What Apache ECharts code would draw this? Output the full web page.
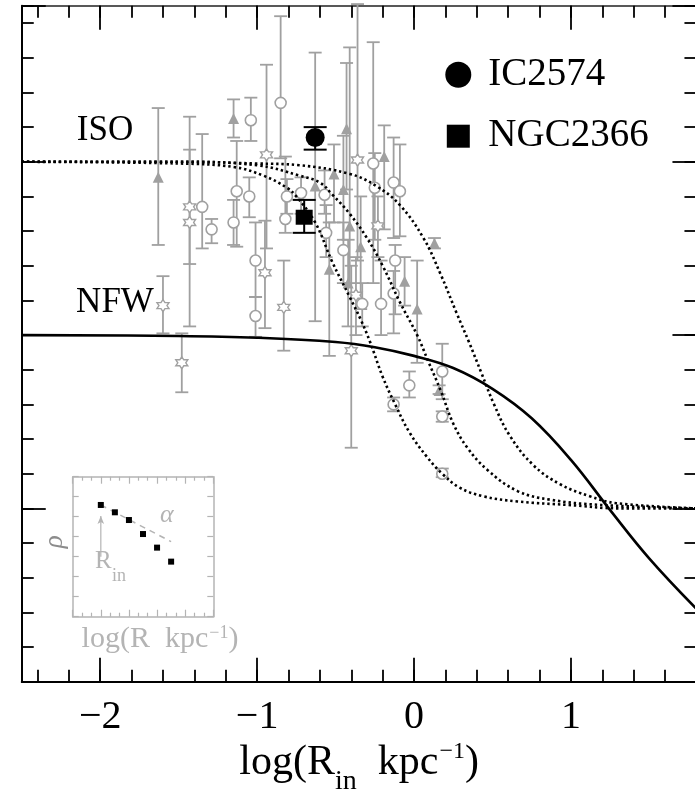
<!DOCTYPE html>
<html><head><meta charset="utf-8">
<script src="https://cdn.jsdelivr.net/npm/echarts@6/dist/echarts.min.js"></script>
<style>html,body{margin:0;padding:0;background:#fff}#c{width:695px;height:793px}</style>
</head><body><div id="c"></div>
<script>
// ---------- data (x = log(R_in/kpc), y = inner slope alpha) ----------
const xMajorTicks = [-2, -1, 0, 1];
// model curves: [x, alpha]
const isoCurveA = [[-2.5,0],[-1.5,-0.01],[-1.15,-0.03],[-0.96,-0.08],[-0.81,-0.15],[-0.75,-0.20],[-0.63,-0.35],[-0.52,-0.58],[-0.41,-0.78],[-0.34,-0.91],[-0.28,-1.04],[-0.2,-1.24],[-0.12,-1.40],[-0.03,-1.56],[0.08,-1.70],[0.18,-1.80],[0.29,-1.88],[0.44,-1.93],[0.66,-1.96],[0.98,-1.98],[1.31,-2.0],[1.8,-2.0]];
const isoCurveB = [[-2.5,0],[-1.5,0],[-1.0,-0.02],[-0.73,-0.08],[-0.6,-0.12],[-0.52,-0.19],[-0.41,-0.30],[-0.3,-0.44],[-0.2,-0.60],[-0.09,-0.81],[0.02,-1.0],[0.09,-1.15],[0.17,-1.32],[0.25,-1.51],[0.34,-1.65],[0.47,-1.78],[0.66,-1.90],[0.87,-1.95],[1.19,-1.98],[1.8,-2.0]];
const isoCurveC = [[-2.5,0],[-1.5,0],[-1.0,-0.01],[-0.73,-0.02],[-0.41,-0.07],[-0.24,-0.14],[-0.09,-0.25],[0.06,-0.44],[0.17,-0.65],[0.27,-0.87],[0.35,-1.04],[0.43,-1.22],[0.51,-1.40],[0.61,-1.58],[0.76,-1.75],[0.93,-1.86],[1.12,-1.93],[1.29,-1.97],[1.8,-2.0]];
const nfwCurve = [[-2.5,-1.0],[-1.5,-1.005],[-1.0,-1.015],[-0.5,-1.04],[-0.25,-1.07],[0.0,-1.12],[0.25,-1.19],[0.5,-1.31],[0.75,-1.48],[1.0,-1.72],[1.25,-2.01],[1.5,-2.29],[1.8,-2.58]];
// galaxies: [x, alpha, alphaLow, alphaHigh]
const openCircles = [
 [-1.35,-0.26,-0.50,0.16],[-1.29,-0.39,-0.47,-0.33],[-1.13,-0.17,-0.49,0.12],[-1.15,-0.35,-0.48,-0.22],
 [-1.05,-0.20,-0.32,-0.09],[-1.04,0.24,0.12,0.37],[-1.01,-0.57,-0.78,-0.35],[-1.01,-0.89,-1.01,-0.78],
 [-0.85,0.34,0.02,0.84],[-0.82,-0.33,-0.41,0.03],[-0.81,-0.20,-0.30,-0.10],[-0.72,-0.18,-0.30,-0.09],
 [-0.56,-0.41,-0.55,-0.25],[-0.57,-0.19,-0.30,-0.05],[-0.45,-0.51,-0.70,-0.35],[-0.26,-0.01,-0.70,0.69],
 [-0.25,-0.15,-0.45,0.05],[-0.13,-0.12,-0.44,0.14],[-0.09,-0.17,-0.43,0.10],[-0.12,-0.57,-0.88,-0.48],
 [-0.13,-0.76,-0.99,-0.63],[-0.21,-0.82,-1.00,-0.57],[-0.33,-0.82,-0.95,-0.70],[0.18,-1.21,-1.37,-1.05],
 [-0.03,-1.29,-1.36,-1.21],[-0.13,-1.40,-1.44,-1.36],[0.18,-1.47,-1.50,-1.44],[0.18,-1.80,-1.82,-1.77]
];
const triangles = [
 [-1.63,-0.09,-0.48,0.31],[-1.15,0.25,0.14,0.36],[-0.43,0.19,-0.16,0.57],[-0.19,0.03,-0.39,0.21],
 [-0.51,-0.07,-0.35,0.10],[-0.45,-0.16,-0.45,0.15],[-0.63,-0.14,-0.92,0.63],[-0.41,-0.37,-0.70,0.66],
 [-0.34,-0.49,-0.85,-0.20],[-0.54,-0.62,-1.12,-0.35],[0.13,-0.47,-0.50,-0.44],[-0.06,-0.69,-0.83,-0.55],
 [0.02,-0.85,-1.16,-0.57],[0.16,-1.32,-1.34,-1.29],[-0.42,-0.70,-0.95,-0.45]
];
const stars = [
 [-1.60,-0.83,-0.99,-0.66],[-1.48,-1.16,-1.33,-0.99],[-1.43,-0.26,-0.59,0.07],[-1.43,-0.35,-0.95,0.26],
 [-0.94,0.04,-0.50,0.56],[-0.95,-0.64,-0.96,-0.34],[-0.83,-0.84,-1.09,-0.57],[-0.36,0.01,-0.57,0.91],
 [-0.23,-0.37,-0.55,-0.20],[-0.37,-0.77,-1.00,-0.55],[-0.40,-1.09,-1.65,-0.60]
];
const ic2574 = [[-0.63,0.14,0.07,0.20]];
const ngc2366 = [[-0.70,-0.32,-0.41,-0.22]];
// inset sketch (arbitrary inset units)
const insetPoints = [[3.0,8.38],[4.5,7.83],[6.0,7.25],[7.5,6.20],[9.0,5.18],[10.5,4.13]];
const insetSlope = [[3.0,8.38],[10.5,5.63]];
const insetArrow = [[3.0,4.5],[3.0,7.55]];

// ---------- styling ----------
const SERIF = '"Liberation Serif", "DejaVu Serif", serif';
const GREY = '#a0a0a0';
const INSET = '#b4b4b4';
const STAR = 'path://M0,-10L2.887,-5L8.66,-5L5.774,0L8.66,5L2.887,5L0,10L-2.887,5L-8.66,5L-5.774,0L-8.66,-5L-2.887,-5Z';

function errBars(capHalf, color, width) {
  return function (params, api) {
    const x = api.value(0);
    const lo = api.coord([x, api.value(2)]);
    const hi = api.coord([x, api.value(3)]);
    const s = {stroke: color, lineWidth: width, fill: null};
    return {type: 'group', children: [
      {type: 'line', shape: {x1: lo[0], y1: lo[1], x2: hi[0], y2: hi[1]}, style: s},
      {type: 'line', shape: {x1: lo[0]-capHalf, y1: lo[1], x2: lo[0]+capHalf, y2: lo[1]}, style: s},
      {type: 'line', shape: {x1: hi[0]-capHalf, y1: hi[1], x2: hi[0]+capHalf, y2: hi[1]}, style: s}
    ]};
  };
}

function xAx(pos, step, len, extra) {
  return Object.assign({
    type: 'value', gridIndex: 0, position: pos, min: -2.5, max: 1.8,
    minInterval: step, maxInterval: step, splitNumber: Math.round(4.3 / step),
    axisLine: {show: false, onZero: false},
    axisTick: {show: true, inside: true, length: len, lineStyle: {color: '#000', width: 1.8}},
    axisLabel: {show: false}, splitLine: {show: false}, minorTick: {show: false}
  }, extra || {});
}
function yAx(pos, step, len, extra) {
  return Object.assign({
    type: 'value', gridIndex: 0, position: pos, min: -3, max: 0.9, interval: step,
    axisLine: {show: false, onZero: false},
    axisTick: {show: true, inside: true, length: len, lineStyle: {color: '#000', width: 1.8}},
    axisLabel: {show: false}, splitLine: {show: false}
  }, extra || {});
}
function insetAx(pos, max, step, extra) {
  return Object.assign({
    type: 'value', gridIndex: 1, position: pos, min: 0, max: max, interval: step,
    axisLine: {show: true, onZero: false, lineStyle: {color: INSET, width: 1.5}},
    axisTick: {show: true, inside: true, length: 7, lineStyle: {color: INSET, width: 1.2}},
    axisLabel: {show: false}, splitLine: {show: false}
  }, extra || {});
}

const xLabelFmt = function (v) {
  const r = Math.round(v);
  if (Math.abs(v - r) > 1e-6 || xMajorTicks.indexOf(r) < 0) return '';
  return r < 0 ? '\u2212' + (-r) : String(r);
};

const chart = echarts.init(document.getElementById('c'), null, {renderer: 'canvas', width: 695, height: 793});

const curveStyle = {color: '#000', width: 2.6, type: [2.4, 2.9]};

const option = {
  animation: false,
  backgroundColor: '#fff',
  grid: [
    {left: 21.75, top: 5.8, width: 674.7, height: 675.9, containLabel: false, outerBoundsMode: 'none'},
    {left: 72.7, top: 476.7, width: 140.6, height: 140, containLabel: false, outerBoundsMode: 'none'}
  ],
  xAxis: [
    xAx('bottom', 0.2, 12, {axisLine: {show: true, onZero: false, lineStyle: {color: '#000', width: 2}}}),
    xAx('bottom', 1, 24, {
      axisLabel: {show: true, formatter: xLabelFmt, fontFamily: SERIF, fontSize: 40, lineHeight: 40, color: '#000', margin: 16},
      name: '{a|log(R}{s|in}{a|  kpc}{p|\u22121}{a|)}',
      nameLocation: 'middle', nameGap: 48.3, nameMoveOverlap: false,
      nameTextStyle: {color: '#000', rich: {
        a: {fontFamily: SERIF, fontSize: 42, lineHeight: 66, color: '#000'},
        s: {fontFamily: SERIF, fontSize: 28, verticalAlign: 'bottom', color: '#000'},
        p: {fontFamily: SERIF, fontSize: 24, verticalAlign: 'top', padding: [10, 0, 0, 1], color: '#000'}
      }}
    }),
    xAx('top', 0.2, 12, {axisLine: {show: true, onZero: false, lineStyle: {color: '#222', width: 1.6}}}),
    xAx('top', 1, 24),
    insetAx('bottom', 15, 3, {
      minorTick: {show: true, splitNumber: 3, length: 4, lineStyle: {color: INSET, width: 1.2}},
      name: '{a|log(R  kpc}{p|\u22121}{a|)}', nameLocation: 'middle', nameGap: 5, nameMoveOverlap: false,
      nameTextStyle: {padding: [0, 0, 0, 34], rich: {
        a: {fontFamily: SERIF, fontSize: 30, lineHeight: 34, color: INSET},
        p: {fontFamily: SERIF, fontSize: 18, verticalAlign: 'top', padding: [3, 0, 0, 1], color: INSET}
      }}
    }),
    insetAx('top', 15, 3, {
      minorTick: {show: true, splitNumber: 3, length: 4, lineStyle: {color: INSET, width: 1.2}}
    })
  ],
  yAxis: [
    yAx('left', 0.2, 12, {axisLine: {show: true, onZero: false, lineStyle: {color: '#000', width: 2}}}),
    yAx('left', 1, 24),
    yAx('right', 0.2, 12),
    yAx('right', 1, 24),
    insetAx('left', 10.5, 1.5, {axisTick: {show: true, inside: true, length: 6, lineStyle: {color: INSET, width: 1.2}}}),
    insetAx('right', 10.5, 1.5, {axisTick: {show: true, inside: true, length: 6, lineStyle: {color: INSET, width: 1.2}}})
  ],
  legend: {
    orient: 'vertical', left: 445.3, top: 55.3, padding: 0,
    itemWidth: 26, itemHeight: 26, itemGap: 22.4, selectedMode: false,
    textStyle: {fontFamily: SERIF, fontSize: 39, lineHeight: 26, color: '#000', padding: [0, 0, 0, 12]},
    data: [
      {name: 'IC2574', icon: 'circle'},
      {name: 'NGC2366', icon: 'path://M0,0M26,26M1.5,1.5H24.5V24.5H1.5Z'}
    ]
  },
  graphic: [
    {type: 'text', x: 105, y: 130.5, z: 10, style: {text: 'ISO', font: '35px ' + SERIF, fill: '#000', align: 'center', verticalAlign: 'middle'}},
    {type: 'text', x: 115, y: 303.3, z: 10, style: {text: 'NFW', font: '35px ' + SERIF, fill: '#000', align: 'center', verticalAlign: 'middle'}},
    {type: 'text', x: 55, y: 541.7, rotation: Math.PI / 2, z: 10, style: {text: '\u03c1', font: 'italic 27px ' + SERIF, fill: '#8c8c8c', align: 'center', verticalAlign: 'middle'}},
    {type: 'text', x: 166.7, y: 515, z: 10, style: {text: '\u03b1', font: 'italic 26px ' + SERIF, fill: INSET, align: 'center', verticalAlign: 'middle'}},
    {type: 'text', x: 103.3, y: 561.7, z: 10, style: {text: 'R', font: '25px ' + SERIF, fill: INSET, align: 'center', verticalAlign: 'middle'}},
    {type: 'text', x: 119, y: 576, z: 10, style: {text: 'in', font: '18px ' + SERIF, fill: INSET, align: 'center', verticalAlign: 'middle'}}
  ],
  series: [
    // grey error bars
    {type: 'custom', name: 'circErr', xAxisIndex: 0, yAxisIndex: 0, z: 2, renderItem: errBars(6.5, GREY, 1.8), encode: {x: 0, y: 1}, data: openCircles},
    {type: 'custom', name: 'triErr', xAxisIndex: 0, yAxisIndex: 0, z: 2, renderItem: errBars(6.5, GREY, 1.8), encode: {x: 0, y: 1}, data: triangles},
    {type: 'custom', name: 'starErr', xAxisIndex: 0, yAxisIndex: 0, z: 2, renderItem: errBars(6.5, GREY, 1.8), encode: {x: 0, y: 1}, data: stars},
    // grey markers
    {type: 'scatter', name: 'circles', xAxisIndex: 0, yAxisIndex: 0, z: 3, symbol: 'circle', symbolSize: 11,
      itemStyle: {color: '#fff', borderColor: GREY, borderWidth: 1.6, opacity: 1}, data: openCircles},
    {type: 'scatter', name: 'triangles', xAxisIndex: 0, yAxisIndex: 0, z: 3, symbol: 'triangle', symbolSize: 11,
      itemStyle: {color: GREY, opacity: 1}, data: triangles},
    {type: 'scatter', name: 'stars', xAxisIndex: 0, yAxisIndex: 0, z: 3, symbol: STAR, symbolSize: 12,
      itemStyle: {color: '#fff', borderColor: GREY, borderWidth: 1.4, opacity: 1}, data: stars},
    // model curves
    {type: 'line', name: 'ISO a', xAxisIndex: 0, yAxisIndex: 0, z: 4, showSymbol: false, smooth: 0.4, silent: true, lineStyle: curveStyle, data: isoCurveA},
    {type: 'line', name: 'ISO b', xAxisIndex: 0, yAxisIndex: 0, z: 4, showSymbol: false, smooth: 0.4, silent: true, lineStyle: curveStyle, data: isoCurveB},
    {type: 'line', name: 'ISO c', xAxisIndex: 0, yAxisIndex: 0, z: 4, showSymbol: false, smooth: 0.4, silent: true, lineStyle: curveStyle, data: isoCurveC},
    {type: 'line', name: 'NFW', xAxisIndex: 0, yAxisIndex: 0, z: 4, showSymbol: false, smooth: 0.4, silent: true,
      lineStyle: {color: '#000', width: 2.6, type: 'solid'}, data: nfwCurve},
    // highlighted galaxies
    {type: 'custom', name: 'icErr', xAxisIndex: 0, yAxisIndex: 0, z: 5, renderItem: errBars(11.5, '#000', 2), encode: {x: 0, y: 1}, data: ic2574},
    {type: 'custom', name: 'ngcErr', xAxisIndex: 0, yAxisIndex: 0, z: 5, renderItem: errBars(11.5, '#000', 2), encode: {x: 0, y: 1}, data: ngc2366},
    {type: 'scatter', name: 'IC2574', xAxisIndex: 0, yAxisIndex: 0, z: 6, symbol: 'circle', symbolSize: 19,
      itemStyle: {color: '#000', opacity: 1}, data: ic2574},
    {type: 'scatter', name: 'NGC2366', xAxisIndex: 0, yAxisIndex: 0, z: 6, symbol: 'rect', symbolSize: [17, 15],
      itemStyle: {color: '#000', opacity: 1}, data: ngc2366},
    // inset sketch
    {type: 'line', name: 'insetSlope', xAxisIndex: 4, yAxisIndex: 4, z: 3, showSymbol: false, silent: true,
      lineStyle: {color: INSET, width: 1.5, type: [6, 5]}, data: insetSlope},
    {type: 'line', name: 'insetArrow', xAxisIndex: 4, yAxisIndex: 4, z: 3, silent: true, symbol: 'none',
      lineStyle: {color: INSET, width: 1.2},
      data: [{value: insetArrow[0], symbol: 'none'}, {value: insetArrow[1], symbol: 'arrow', symbolSize: [5, 8], itemStyle: {color: INSET}}],
      showSymbol: true, showAllSymbol: true},
    {type: 'scatter', name: 'insetPoints', xAxisIndex: 4, yAxisIndex: 4, z: 5, symbol: 'rect', symbolSize: 6,
      itemStyle: {color: '#000', opacity: 1}, data: insetPoints}
  ]
};
chart.setOption(option);
</script>
</body></html>
